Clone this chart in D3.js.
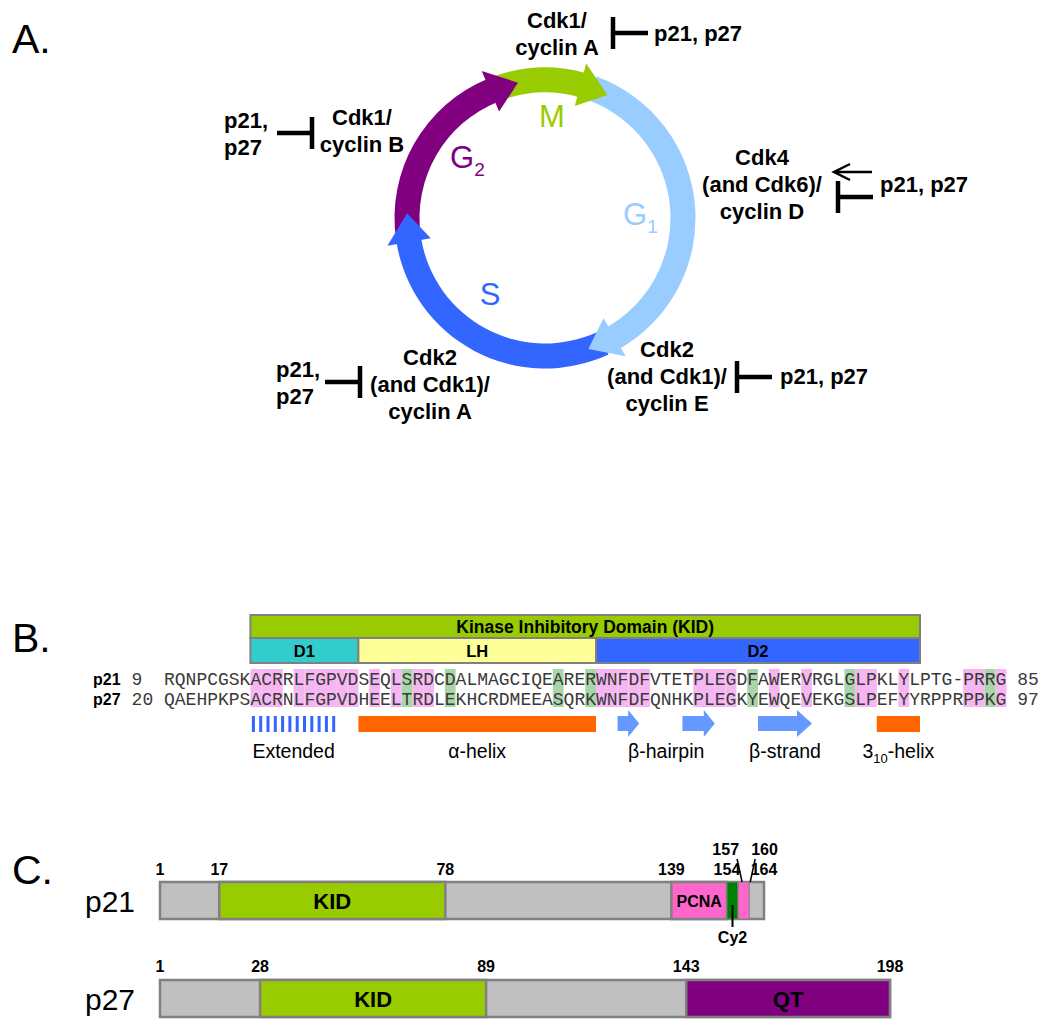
<!DOCTYPE html>
<html>
<head>
<meta charset="utf-8">
<script src="https://cdn.jsdelivr.net/npm/d3@7"></script>
<style>
body{margin:0;background:#fff}
svg{display:block}
text{font-family:"Liberation Sans",Arial,sans-serif}
</style>
</head>
<body>
<svg id="fig" width="1050" height="1030"></svg>
<script>
// cell cycle phases (degrees round the cycle, clockwise from 12 o'clock)
var phaseNames = ["G1", "S", "G2", "M"];
var phaseStart = [20, 155, 262, 340];
var phaseTip = [161.7, 272, 348.7, 386.9];
var phaseColors = ["#99CCFF", "#3366FF", "#800080", "#99CC00"];

var complexNames = [["Cdk1/", "cyclin A"], ["Cdk1/", "cyclin B"], ["Cdk4", "(and Cdk6)/", "cyclin D"],
	["Cdk2", "(and Cdk1)/", "cyclin E"], ["Cdk2", "(and Cdk1)/", "cyclin A"]];
var inhibitorNames = [["p21, p27"], ["p21,", "p27"], ["p21, p27"], ["p21, p27"], ["p21,", "p27"]];

// panel B: aligned KID sequences
var p21Seq = "RQNPCGSKACRRLFGPVDSEQLSRDCDALMAGCIQEARERWNFDFVTETPLEGDFAWERVRGLGLPKLYLPTG-PRRG";
var p27Seq = "QAEHPKPSACRNLFGPVDHEELTRDLEKHCRDMEEASQRKWNFDFQNHKPLEGKYEWQEVEKGSLPEFYYRPPRPPKG";
var seqNames = ["p21", "p27"];
var seqFirst = [9, 20];
var seqLast = [85, 97];
var pinkCols = [8, 9, 10, 12, 13, 14, 15, 16, 17, 19, 21, 23, 24, 40, 41, 42, 43, 44, 49, 50, 51, 52, 56, 59, 64, 65, 68, 74, 75, 77];
var greenCols = [22, 26, 36, 39, 54, 63, 76];
var domainNames = ["D1", "LH", "D2"];
var domainStart = [8, 18, 40];
var domainEnd = [18, 40, 70];
var kidRange = [8, 70];
var structNames = ["Extended", "α-helix", "β-hairpin", "β-strand", "3-helix"];
var structParts = [[[8, 16]], [[18, 40]], [[42, 44], [48, 51]], [[55, 60]], [[66, 70]]];
var structKind = ["extended", "helix", "strand", "strand", "helix"];

// panel C: domain maps (residues)
var p21SegStart = [1, 17, 78, 139, 154, 157, 160];
var p21SegEnd = [17, 78, 139, 154, 157, 160, 164];
var p21SegType = ["none", "KID", "none", "PCNA", "Cy2", "pcna2", "none"];
var p21Ticks = [1, 17, 78, 139, 154, 164];
var p21TicksUpper = [157, 160];
var p27SegStart = [1, 28, 89, 143];
var p27SegEnd = [28, 89, 143, 198];
var p27SegType = ["none", "KID", "none", "QT"];
var p27Ticks = [1, 28, 89, 143, 198];

var segFill = {none: "#C0C0C0", KID: "#99CC00", PCNA: "#FF66CC", pcna2: "#FF66CC", Cy2: "#008000", QT: "#800080"};
var segLabel = {KID: "KID", PCNA: "PCNA", QT: "QT"};

var svg = d3.select("#fig");

// ---------- A ----------
svg.append("text").attr("x", 12).attr("y", 53).attr("font-size", 41).text("A.");

var R = 138, W = 25, headDeg = 12;
var deg = d3.scaleLinear().domain([0, 360]).range([0, 2 * Math.PI]);
var cyc = svg.append("g").attr("transform", "translate(545,218)");
var band = d3.arc().innerRadius(R - W / 2).outerRadius(R + W / 2);
function pt(a, rr) { return [rr * Math.sin(deg(a)), -rr * Math.cos(deg(a))]; }

phaseNames.forEach(function(p, i){
	cyc.append("path")
		.attr("d", band({startAngle: deg(phaseStart[i]), endAngle: deg(phaseTip[i] - headDeg + 1)}))
		.attr("fill", phaseColors[i]);
});
phaseNames.forEach(function(p, i){
	var b = phaseTip[i] - headDeg;
	cyc.append("path")
		.attr("d", d3.line()([pt(b, R - 22), pt(b, R + 22), pt(phaseTip[i], R)]) + "Z")
		.attr("fill", phaseColors[i]);
});

// phase letters
var phaseLabelPos = [[623, 225, "start"], [490, 305, "middle"], [450, 168, "start"], [552, 127, "middle"]];
phaseNames.forEach(function(p, i){
	var t = svg.append("text").attr("x", phaseLabelPos[i][0]).attr("y", phaseLabelPos[i][1])
		.attr("text-anchor", phaseLabelPos[i][2]).attr("font-size", 31).attr("fill", phaseColors[i]);
	t.append("tspan").text(p[0]);
	if (p.length > 1) t.append("tspan").attr("font-size", 19).attr("dy", 8).text(p.slice(1));
});

// complexes and their inhibitors
var notes = [
	{cx: 557, y: 28, bx: 613, by: 33, dir: 1, lx: 654, ly: 41},
	{cx: 362, y: 125, bx: 312, by: 133, dir: -1, lx: 224, ly: 128},
	{cx: 762, y: 165, bx: 838, by: 197, dir: 1, lx: 880, ly: 192, arrowY: 172},
	{cx: 667, y: 357, bx: 737, by: 377, dir: 1, lx: 780, ly: 384},
	{cx: 430, y: 365, bx: 360, by: 382, dir: -1, lx: 276, ly: 377}
];
notes.forEach(function(n, i){
	var t = svg.append("text").attr("text-anchor", "middle").attr("font-size", 22).attr("font-weight", "bold");
	complexNames[i].forEach(function(s, j){
		t.append("tspan").attr("x", n.cx).attr("y", n.y + j * 27).text(s);
	});
	var l = svg.append("text").attr("font-size", 22).attr("font-weight", "bold");
	inhibitorNames[i].forEach(function(s, j){
		l.append("tspan").attr("x", n.lx).attr("y", n.ly + j * 27).text(s);
	});
	svg.append("line").attr("x1", n.bx).attr("x2", n.bx).attr("y1", n.by - 16).attr("y2", n.by + 16)
		.attr("stroke", "#000").attr("stroke-width", 4.5);
	svg.append("line").attr("x1", n.bx).attr("x2", n.bx + n.dir * 35).attr("y1", n.by).attr("y2", n.by)
		.attr("stroke", "#000").attr("stroke-width", 4.5);
	if (n.arrowY) {
		svg.append("path")
			.attr("d", "M" + (n.bx + 34) + "," + n.arrowY + "H" + (n.bx - 4)
				+ "M" + (n.bx + 12) + "," + (n.arrowY - 8) + "L" + (n.bx - 4) + "," + n.arrowY + "L" + (n.bx + 12) + "," + (n.arrowY + 8))
			.attr("fill", "none").attr("stroke", "#000").attr("stroke-width", 2.5);
	}
});

// ---------- B ----------
svg.append("text").attr("x", 12).attr("y", 652).attr("font-size", 41).text("B.");

var colX = d3.scaleLinear().domain([0, 78]).range([164, 164 + 78 * 10.8]);
var cw = colX(1) - colX(0);

svg.selectAll("rect.pink").data(pinkCols).enter().append("rect")
	.attr("x", function(d){ return colX(d); }).attr("y", 669).attr("width", cw).attr("height", 38)
	.attr("fill", "#F5B6F2");
svg.selectAll("rect.green").data(greenCols).enter().append("rect")
	.attr("x", function(d){ return colX(d); }).attr("y", 669).attr("width", cw).attr("height", 38)
	.attr("fill", "#A9D6A9");

svg.append("rect").attr("x", colX(kidRange[0])).attr("y", 615)
	.attr("width", colX(kidRange[1]) - colX(kidRange[0])).attr("height", 23)
	.attr("fill", "#99CC00").attr("stroke", "#808080").attr("stroke-width", 2);
svg.append("text").attr("x", (colX(kidRange[0]) + colX(kidRange[1])) / 2).attr("y", 633)
	.attr("text-anchor", "middle").attr("font-size", 17.5).attr("font-weight", "bold")
	.text("Kinase Inhibitory Domain (KID)");
var domFill = ["#33CCCC", "#FFFF99", "#3366FF"];
domainNames.forEach(function(d, i){
	svg.append("rect").attr("x", colX(domainStart[i])).attr("y", 638)
		.attr("width", colX(domainEnd[i]) - colX(domainStart[i])).attr("height", 25)
		.attr("fill", domFill[i]).attr("stroke", "#808080").attr("stroke-width", 2);
	svg.append("text").attr("x", (colX(domainStart[i]) + colX(domainEnd[i])) / 2).attr("y", 657)
		.attr("text-anchor", "middle").attr("font-size", 16.5).attr("font-weight", "bold").text(d);
});

[p21Seq, p27Seq].forEach(function(seq, r){
	var y = 685 + r * 20;
	svg.append("text").attr("x", 93).attr("y", y).attr("font-size", 16).attr("font-weight", "bold").text(seqNames[r]);
	svg.append("text").attr("x", colX(-3)).attr("y", y).attr("font-size", 18)
		.style("font-family", "'Courier New','Liberation Mono',monospace").attr("fill", "#3a3a3a").text(seqFirst[r]);
	svg.append("text").attr("x", colX(79)).attr("y", y).attr("font-size", 18)
		.style("font-family", "'Courier New','Liberation Mono',monospace").attr("fill", "#3a3a3a").text(seqLast[r]);
	svg.append("g").selectAll("text").data(seq.split("")).enter().append("text")
		.attr("x", function(d, i){ return colX(i) + cw / 2; }).attr("y", y)
		.attr("text-anchor", "middle").attr("font-size", 18).attr("fill", "#3a3a3a")
		.style("font-family", "'Courier New','Liberation Mono',monospace")
		.text(function(d){ return d; });
});

// secondary structure
structNames.forEach(function(name, i){
	structParts[i].forEach(function(p){
		var x0 = colX(p[0]), x1 = colX(p[1]);
		if (structKind[i] == "helix") {
			svg.append("rect").attr("x", x0).attr("y", 716).attr("width", x1 - x0).attr("height", 16).attr("fill", "#FF6600");
		} else if (structKind[i] == "extended") {
			d3.range(x0 + 1.5, x1, 7.3).forEach(function(sx){
				svg.append("rect").attr("x", sx).attr("y", 716).attr("width", 3).attr("height", 16).attr("fill", "#3366FF");
			});
		} else {
			var hl = (x1 - x0) > 40 ? 15 : 11;
			svg.append("path")
				.attr("d", d3.line()([[x0, 716], [x1 - hl, 716], [x1 - hl, 710], [x1, 723.5], [x1 - hl, 737], [x1 - hl, 731], [x0, 731]]) + "Z")
				.attr("fill", "#6699FF");
		}
	});
	var parts = structParts[i];
	var mid = (colX(parts[0][0]) + colX(parts[parts.length - 1][1])) / 2;
	var t = svg.append("text").attr("x", mid).attr("y", 758).attr("text-anchor", "middle").attr("font-size", 19.5);
	if (name == "3-helix") {
		t.append("tspan").text("3");
		t.append("tspan").attr("font-size", 13).attr("dy", 5).text("10");
		t.append("tspan").attr("dy", -5).text("-helix");
	} else {
		t.text(name);
	}
});

// ---------- C ----------
svg.append("text").attr("x", 12).attr("y", 884).attr("font-size", 41).text("C.");

var resX = d3.scaleLinear().domain([1, 198]).range([160, 890]);

function drawMap(name, starts, ends, types, ticks, y, ly){
	svg.append("text").attr("x", 85).attr("y", y + 30).attr("font-size", 30).text(name);
	svg.append("rect").attr("x", resX(starts[0])).attr("y", y)
		.attr("width", resX(ends[ends.length - 1]) - resX(starts[0])).attr("height", 37)
		.attr("fill", "#C0C0C0").attr("stroke", "#808080").attr("stroke-width", 2.5);
	types.forEach(function(tp, i){
		if (tp == "none") return;
		svg.append("rect").attr("x", resX(starts[i])).attr("y", y)
			.attr("width", resX(ends[i]) - resX(starts[i])).attr("height", 37)
			.attr("fill", segFill[tp]).attr("stroke", "#808080").attr("stroke-width", tp == "Cy2" || tp == "pcna2" ? 1 : 2.5);
		if (segLabel[tp]) {
			svg.append("text").attr("x", (resX(starts[i]) + resX(ends[i])) / 2).attr("y", y + (tp == "PCNA" ? 25 : 27))
				.attr("text-anchor", "middle").attr("font-size", tp == "PCNA" ? 16 : 22).attr("font-weight", "bold")
				.text(segLabel[tp]);
		}
	});
	svg.append("g").selectAll("text").data(ticks).enter().append("text")
		.attr("x", function(d){ return resX(d); }).attr("y", ly)
		.attr("text-anchor", "middle").attr("font-size", 16).attr("font-weight", "bold")
		.text(function(d){ return d; });
}

drawMap("p21", p21SegStart, p21SegEnd, p21SegType, p21Ticks, 882, 875);
drawMap("p27", p27SegStart, p27SegEnd, p27SegType, p27Ticks, 980, 972);

// upper p21 labels with leader lines
p21TicksUpper.forEach(function(r, i){
	var x = resX(r);
	svg.append("text").attr("x", i == 0 ? x + 1 : x + 2).attr("y", 855)
		.attr("text-anchor", i == 0 ? "end" : "start").attr("font-size", 16).attr("font-weight", "bold").text(r);
	svg.append("line").attr("x1", i == 0 ? x - 1 : x + 6).attr("y1", 859).attr("x2", i == 0 ? x + 4 : x + 1).attr("y2", 882)
		.attr("stroke", "#000").attr("stroke-width", 1.5);
});
// Cy2 callout
var cyX = (resX(154) + resX(157)) / 2;
svg.append("line").attr("x1", cyX).attr("x2", cyX).attr("y1", 905).attr("y2", 927).attr("stroke", "#000").attr("stroke-width", 2);
svg.append("text").attr("x", cyX).attr("y", 943).attr("text-anchor", "middle").attr("font-size", 16).attr("font-weight", "bold").text("Cy2");
</script>
</body>
</html>
